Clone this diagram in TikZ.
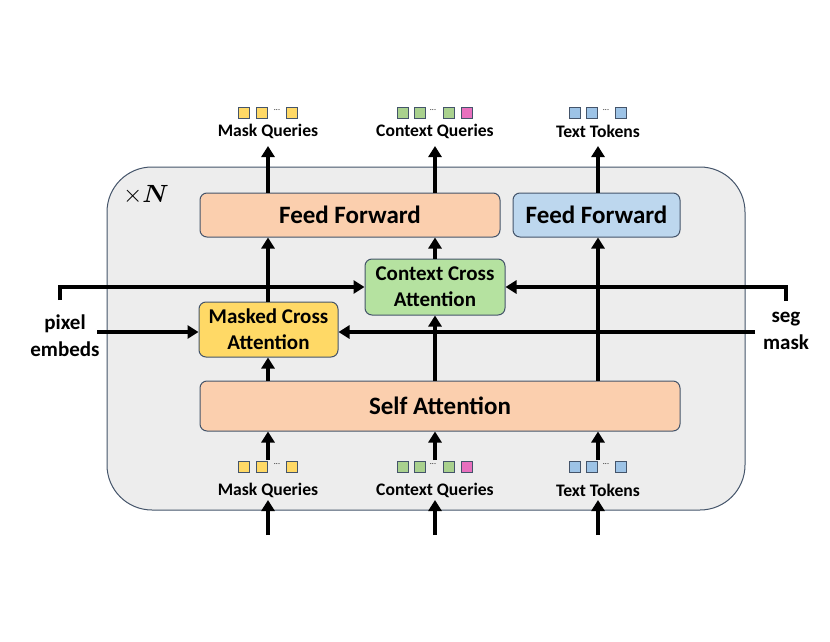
\documentclass[tikz,border=0pt]{standalone}
\usepackage{bm}
\usepackage{fontspec}
\setmainfont{Carlito}
\usetikzlibrary{arrows.meta}
\definecolor{edge}{HTML}{44546A}
\definecolor{bgray}{HTML}{EDEDED}
\definecolor{peach}{HTML}{FBCFAE}
\definecolor{lblue}{HTML}{BDD7EE}
\definecolor{lgreen}{HTML}{B5E2A0}
\definecolor{lyellow}{HTML}{FFD966}
\definecolor{sqy}{HTML}{FFD966}
\definecolor{sqg}{HTML}{A9D18E}
\definecolor{sqp}{HTML}{E870BE}
\definecolor{sqb}{HTML}{9DC3E6}
\tikzset{
  blk/.style={draw=edge, line width=1pt, rounded corners=7pt, inner sep=0pt, font=\bfseries},
  arr/.style={line width=4pt, -{Triangle[length=11pt,width=13pt]}},
  ln/.style={line width=4pt},
  sq/.style={draw=edge, line width=0.8pt, minimum size=11pt, inner sep=0pt},
  lab/.style={font=\bfseries\fontsize{17.6}{20}\selectfont, inner sep=0pt},
  side/.style={font=\bfseries\fontsize{21}{27}\selectfont, align=center, inner sep=0pt},
  big/.style={font=\bfseries\fontsize{25}{28}\selectfont},
  two/.style={align=center, font=\bfseries\fontsize{21}{26}\selectfont},
}
\begin{document}
\begin{tikzpicture}[x=1pt,y=-1pt]
\useasboundingbox (0,0) rectangle (830,642);
% frame
\draw[draw=edge, fill=bgray, line width=1pt, rounded corners=45pt] (107,167) rectangle (745,510);
\node[font=\fontsize{25}{28}\selectfont, inner sep=0pt] (xn) at (146,195) {$\times\bm{N}$};
% blocks
\node[blk, big, fill=peach, minimum width=300pt, minimum height=44pt] (ff1) at (350,215) {Feed Forward};
\node[blk, big, fill=lblue, minimum width=167pt, minimum height=44pt] (ff2) at (596.5,215) {Feed Forward};
\node[blk, two, fill=lgreen, minimum width=140pt, minimum height=56pt] (cca) at (435,287) {Context Cross\\Attention};
\node[blk, two, fill=lyellow, minimum width=139pt, minimum height=55pt] (mca) at (268.5,329.5) {Masked Cross\\Attention};
\node[blk, big, fill=peach, minimum width=480pt, minimum height=50pt] (sa) at (440,406) {Self Attention};
% labels
\node[lab] (tmq) at (268,131) {Mask Queries};
\node[lab] (tcq) at (435,131) {Context Queries};
\node[lab] (ttt) at (598,131) {Text Tokens};
\node[lab] (bmq) at (268,490) {Mask Queries};
\node[lab] (bcq) at (435,490) {Context Queries};
\node[lab] (btt) at (598,490) {Text Tokens};
% squares
\foreach \yy/\nm in {112.5/t,466.5/b}{
  \node[sq, fill=sqy] (\nm y1) at (243.5,\yy) {};
  \node[sq, fill=sqy] (\nm y2) at (261.5,\yy) {};
  \node[font=\fontsize{8}{8}\selectfont, inner sep=0pt] (\nm yd) at (277,\yy-2) {...};
  \node[sq, fill=sqy] (\nm y3) at (291.5,\yy) {};
  \node[sq, fill=sqg] (\nm g1) at (402.5,\yy) {};
  \node[sq, fill=sqg] (\nm g2) at (419.5,\yy) {};
  \node[font=\fontsize{8}{8}\selectfont, inner sep=0pt] (\nm gd) at (433,\yy-2) {...};
  \node[sq, fill=sqg] (\nm g3) at (448.5,\yy) {};
  \node[sq, fill=sqp] (\nm g4) at (466.5,\yy) {};
  \node[sq, fill=sqb] (\nm b1) at (574.5,\yy) {};
  \node[sq, fill=sqb] (\nm b2) at (591.5,\yy) {};
  \node[font=\fontsize{8}{8}\selectfont, inner sep=0pt] (\nm bd) at (606,\yy-2) {...};
  \node[sq, fill=sqb] (\nm b3) at (620.5,\yy) {};
}
% side labels
\node[side] (pix) at (65,336) {pixel\\embeds};
\node[side] (seg) at (786,331) {seg\\mask};
% coordinates
\coordinate (in1) at (268,535);
\coordinate (in2) at (435,535);
\coordinate (in3) at (598,535);
\coordinate (pe1) at (60,300);
\coordinate (pe2) at (60,287);
\coordinate (pe3) at (97,332);
\coordinate (sm1) at (786,301);
\coordinate (sm2) at (786,287);
\coordinate (sm3) at (755,332);
% bottom input arrows
\draw[arr] (in1) -- (268,500);
\draw[arr] (in2) -- (435,500);
\draw[arr] (in3) -- (598,500);
\draw[arr] (268,460) -- (sa.south -| 268,0);
\draw[arr] (435,460) -- (sa.south -| 435,0);
\draw[arr] (598,460) -- (sa.south -| 598,0);
% internal
\draw[arr] (sa.north -| 268,0) -- (mca.south -| 268,0);
\draw[arr] (mca.north -| 268,0) -- (ff1.south -| 268,0);
\draw[arr] (sa.north -| cca) -- (cca.south);
\draw[arr] (cca.north) -- (ff1.south -| cca);
\draw[arr] (sa.north -| 598,0) -- (ff2.south -| 598,0);
% outputs
\draw[arr] (ff1.north -| 268,0) -- (268,146);
\draw[arr] (ff1.north -| 435,0) -- (435,146);
\draw[arr] (ff2.north -| 598,0) -- (598,146);
% side
\draw[arr] (pe1) -- (pe2) -- (cca.west);
\draw[arr] (pe3) -- (pe3 -| mca.west);
\draw[arr] (sm1) -- (sm2) -- (cca.east);
\draw[arr] (sm3) -- (sm3 -| mca.east);
\end{tikzpicture}
\end{document}
